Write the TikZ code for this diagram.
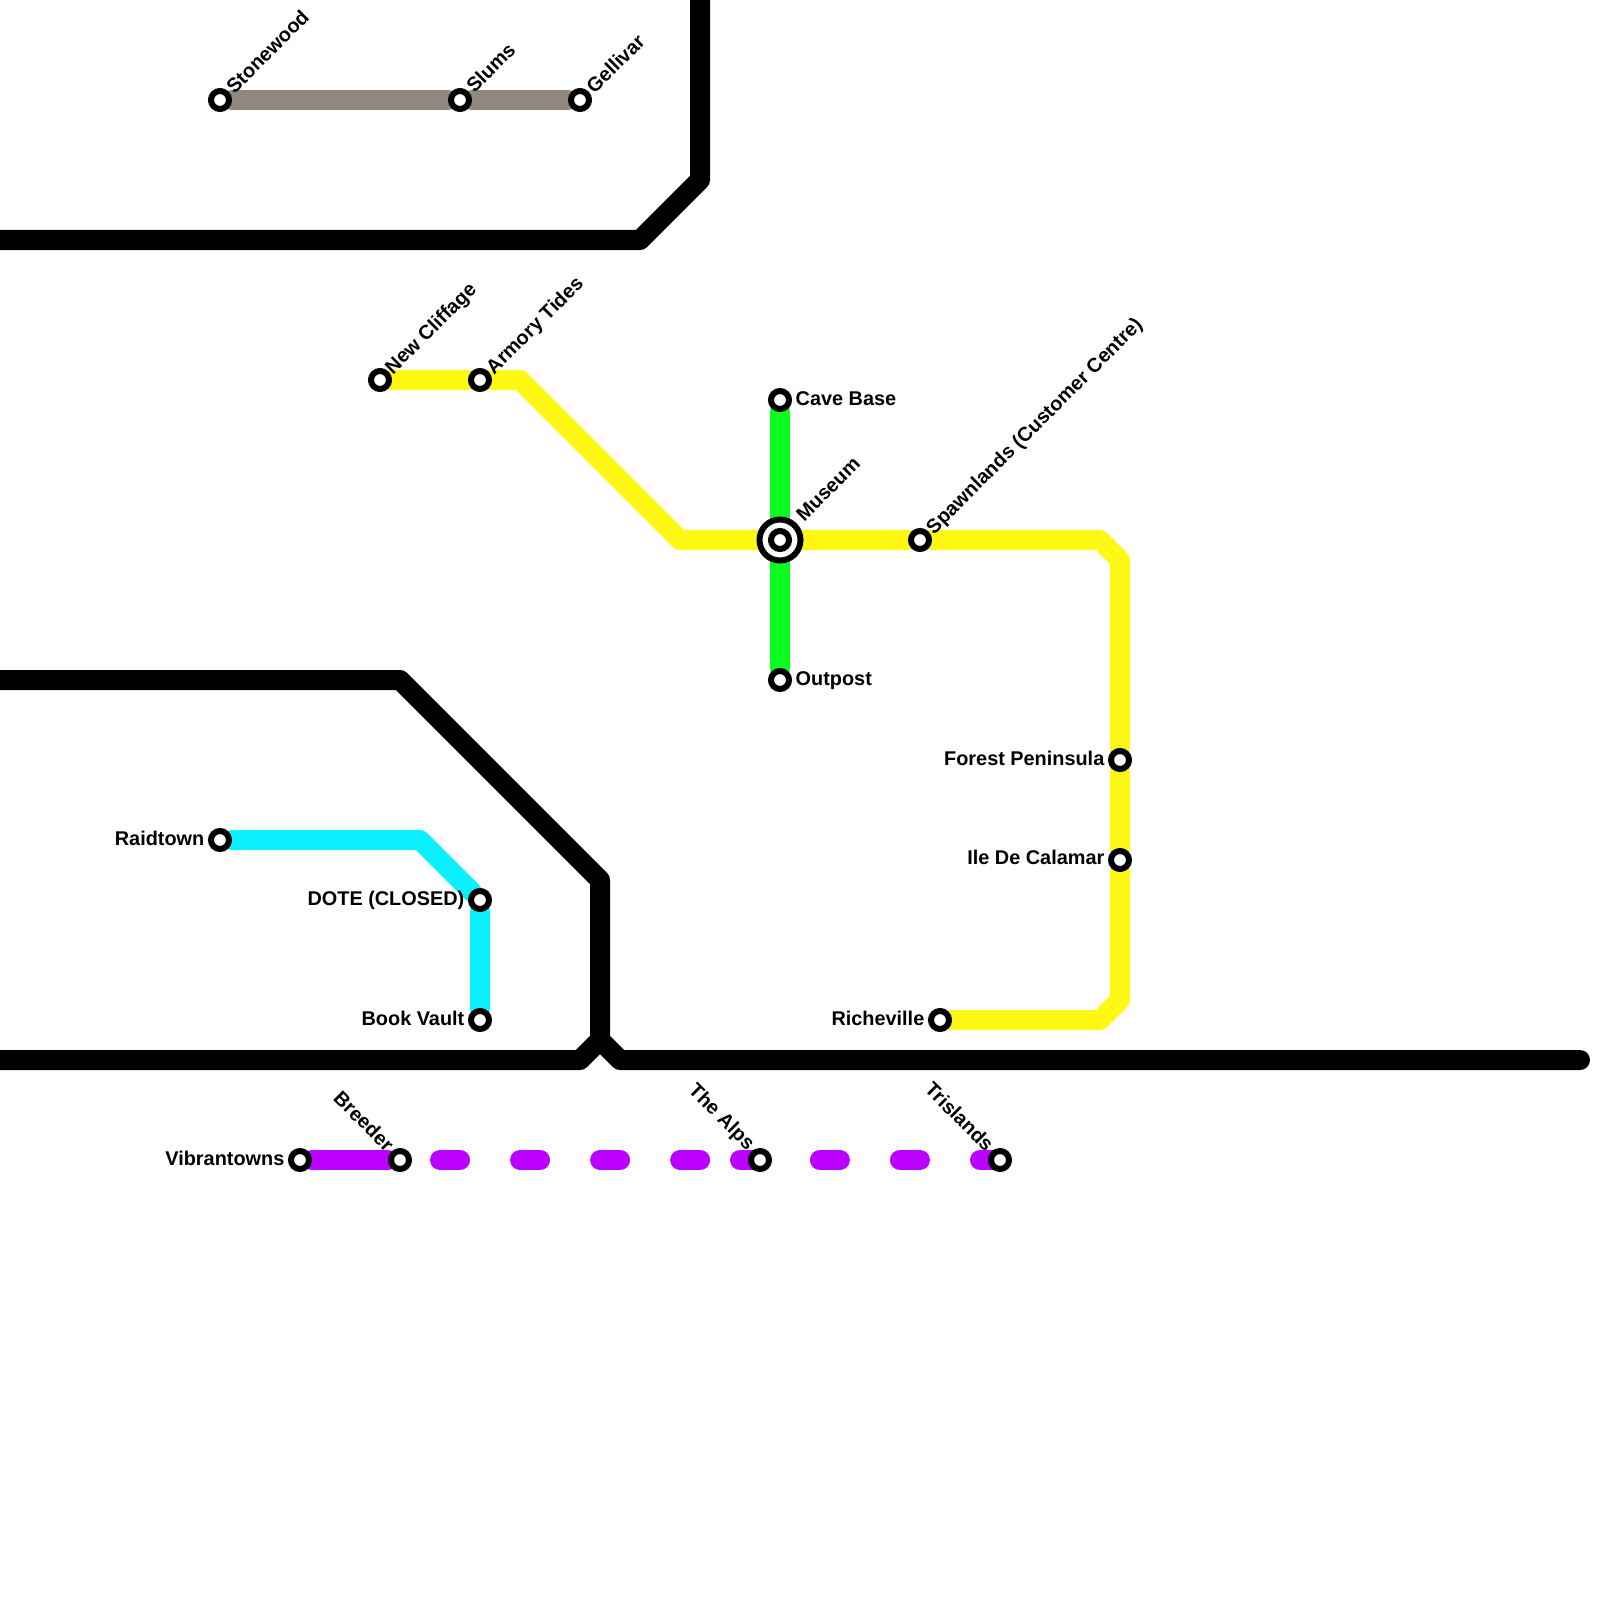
\documentclass[tikz,border=0pt]{standalone}
\usepackage{fontspec}
\setmainfont{Liberation Sans}
\usetikzlibrary{backgrounds}
\definecolor{lineyellow}{HTML}{FFF714}
\definecolor{linegreen}{HTML}{0AFF1E}
\definecolor{linecyan}{HTML}{0AF0FF}
\definecolor{linepurple}{HTML}{BB00FF}
\definecolor{linegrey}{HTML}{90877D}
\tikzset{
    metro/.style = {draw, line width=0.2cm, line cap=round, line join=round},
    stop/.style = {draw, circle, fill=white, line width=0.06cm, inner sep=0pt, minimum size=0.18cm},
    bigstop/.style = {stop, minimum size=0.41cm},
    stoplabel/.style = {font=\fontsize{5.65}{7}\selectfont\bfseries, inner sep=0pt},
    upright/.style = {stoplabel, anchor=west, rotate=45},
    upleft/.style = {stoplabel, anchor=east, rotate=-45},
    toright/.style = {stoplabel, anchor=west},
    toleft/.style = {stoplabel, anchor=east},
}

\begin{document}
\begin{tikzpicture}[x=0.01cm, y=-0.01cm]
        \useasboundingbox (0, 0) rectangle (1600, 1600);

        \node[bigstop] (museumring) at (780, 540) {};
        \node[stop] (Museum) at (780, 540) {};
        \node[stop] (Stonewood) at (220, 100) {};
        \node[stop] (Slums) at (460, 100) {};
        \node[stop] (Gellivar) at (580, 100) {};
        \node[stop] (NewCliffage) at (380, 380) {};
        \node[stop] (ArmoryTides) at (480, 380) {};
        \node[stop] (CaveBase) at (780, 400) {};
        \node[stop] (Outpost) at (780, 680) {};
        \node[stop] (Spawnlands) at (920, 540) {};
        \node[stop] (ForestPeninsula) at (1120, 760) {};
        \node[stop] (IleDeCalamar) at (1120, 860) {};
        \node[stop] (Richeville) at (940, 1020) {};
        \node[stop] (Raidtown) at (220, 840) {};
        \node[stop] (DOTE) at (480, 900) {};
        \node[stop] (BookVault) at (480, 1020) {};
        \node[stop] (Vibrantowns) at (300, 1160) {};
        \node[stop] (Breeder) at (400, 1160) {};
        \node[stop] (TheAlps) at (760, 1160) {};
        \node[stop] (Trislands) at (1000, 1160) {};

        \node[upright] (lStonewood) at (229, 90) {Stonewood};
        \node[upright] (lSlums) at (469, 89) {Slums};
        \node[upright] (lGellivar) at (589, 90) {Gellivar};
        \node[upright] (lNewCliffage) at (389, 372) {New Cliffage};
        \node[upright] (lArmoryTides) at (490, 372) {Armory Tides};
        \node[upright] (lMuseum) at (799, 518) {Museum};
        \node[upright] (lSpawnlands) at (930, 532) {Spawnlands (Customer Centre)};
        \node[toright] (lCaveBase) at (795, 399) {Cave Base};
        \node[toright] (lOutpost) at (795, 681) {Outpost};
        \node[toleft] (lForestPeninsula) at (1105, 758) {Forest Peninsula};
        \node[toleft] (lIleDeCalamar) at (1105, 857) {Ile De Calamar};
        \node[toleft] (lRicheville) at (925, 1018) {Richeville};
        \node[toleft] (lRaidtown) at (205, 838) {Raidtown};
        \node[toleft] (lDOTE) at (465, 900) {DOTE (CLOSED)};
        \node[toleft] (lBookVault) at (465, 1018) {Book Vault};
        \node[toleft] (lVibrantowns) at (285, 1158) {Vibrantowns};
        \node[upleft] (lBreeder) at (391, 1148) {Breeder};
        \node[upleft] (lTheAlps) at (751, 1148) {The Alps};
        \node[upleft] (lTrislands) at (991, 1148) {Trislands};

        \coordinate (a1) at (520, 380);
        \coordinate (a2) at (680, 540);
        \coordinate (a3) at (1100, 540);
        \coordinate (a4) at (1120, 560);
        \coordinate (a5) at (1120, 1000);
        \coordinate (a6) at (1100, 1020);
        \coordinate (c1) at (420, 840);
        \coordinate (t1) at (700, -20);
        \coordinate (t2) at (700, 180);
        \coordinate (t3) at (640, 240);
        \coordinate (t4) at (-20, 240);
        \coordinate (b1) at (-20, 680);
        \coordinate (b2) at (400, 680);
        \coordinate (b3) at (600, 880);
        \coordinate (b4) at (600, 1040);
        \coordinate (b5) at (580, 1060);
        \coordinate (b6) at (-20, 1060);
        \coordinate (b7) at (620, 1060);
        \coordinate (b8) at (1580, 1060);
        \coordinate (p1) at (740, 1160);

        \begin{pgfonlayer}{background}
            \draw[metro, black] (t1) -- (t2) -- (t3) -- (t4);
            \draw[metro, black] (b1) -- (b2) -- (b3) -- (b4) -- (b5) -- (b6);
            \draw[metro, black] (b4) -- (b7) -- (b8);
            \draw[metro, linegrey] (Stonewood) -- (Slums) -- (Gellivar);
            \draw[metro, linegreen] (CaveBase) -- (Museum) -- (Outpost);
            \draw[metro, lineyellow] (NewCliffage) -- (ArmoryTides) -- (a1) -- (a2) -- (Museum) -- (Spawnlands) -- (a3) -- (a4) -- (ForestPeninsula) -- (IleDeCalamar) -- (a5) -- (a6) -- (Richeville);
            \draw[metro, linecyan] (Raidtown) -- (c1) -- (DOTE) -- (BookVault);
            \draw[metro, linepurple] (Vibrantowns) -- (Breeder);
            \draw[metro, linepurple, dash pattern=on 0.2cm off 0.6cm, dash phase=0.4cm] (Breeder.center) -- (TheAlps.center);
            \draw[metro, linepurple, dash pattern=on 0.2cm off 0.6cm] (Trislands.center) -- (p1);
        \end{pgfonlayer}
    \end{tikzpicture}
\end{document}
